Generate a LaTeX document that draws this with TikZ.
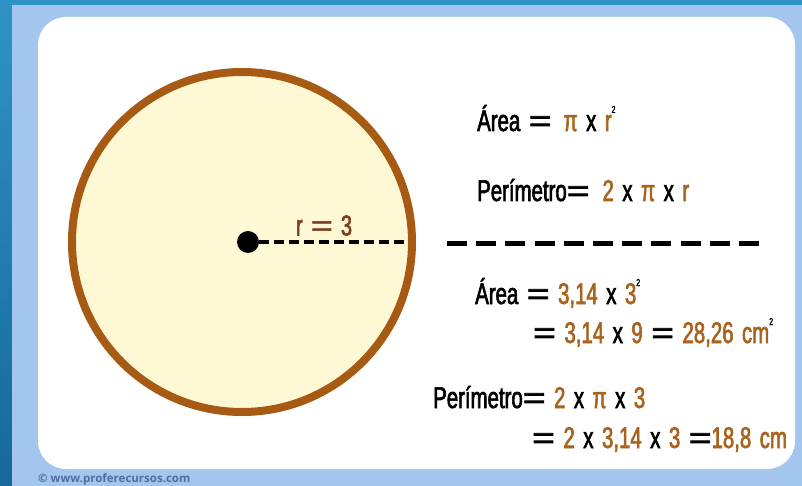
\documentclass[tikz,border=0pt]{standalone}
\usepackage{fontspec}
\usepackage{graphicx}
\setmainfont{Liberation Sans}[FakeStretch=0.68, FakeBold=2, WordSpace=1.5]
\newfontfamily\eqfont{Liberation Sans}[FakeBold=2]
\newfontfamily\markfont{Open Sans}
\usepackage{tikz}
\usetikzlibrary{positioning, shapes}

\definecolor{tealtop}{HTML}{2E93C4}
\definecolor{tealbot}{HTML}{17689A}
\definecolor{panelblue}{HTML}{A4C6EE}
\definecolor{discfill}{HTML}{FFF8D4}
\definecolor{discline}{HTML}{A65A14}
\definecolor{valbrown}{HTML}{A8641E}
\definecolor{rbrown}{HTML}{7A3E1E}
\definecolor{markblue}{HTML}{4D6E9E}

\newcommand{\val}[1]{\textcolor{valbrown}{#1}}
\newcommand{\eqs}{{\eqfont\scalebox{1.3}[1]{=}}}
\newcommand{\sq}{\raisebox{18pt}{\fontsize{10}{10}\selectfont 2}}

\begin{document}
\begin{tikzpicture}[
		x=1pt, y=-1pt,
		formula/.style={anchor=base west, inner sep=0pt, font=\fontsize{30}{30}\selectfont},
		disc/.style={draw=discline, fill=discfill, circle, line width=8pt, minimum size=340pt, inner sep=0pt},
		dot/.style={fill=black, circle, minimum size=22pt, inner sep=0pt},
		radius line/.style={black, line width=3.5pt, dash pattern=on 10pt off 5pt},
		sep line/.style={black, line width=5pt, dash pattern=on 20pt off 9.2pt}
		]
		\useasboundingbox (0,0) rectangle (802,486);
		
		% Background
		\fill[top color=tealtop, bottom color=tealbot] (0,0) rectangle (802,486);
		\fill[panelblue] (12,5) rectangle (802,486);
		\fill[white, rounded corners=28pt] (38,17) rectangle (795,469);
		
		% Circle
		\node[disc] (circ) at (242,242) {};
		\node[dot] (ctr) at (248,242) {};
		\coordinate (rim) at (408,242);
		\draw[radius line] (ctr) -- (rim);
		\node[above=6pt of rim, xshift=-84pt, inner sep=0pt, font=\fontsize{29}{29}\selectfont, text=rbrown] (rlab) {r \eqs\ 3};
		
		% Formulas
		\node[formula] (area) at (477,131) {Área \eqs\hspace{12pt}\val{π} x \val{r}\sq};
		\node[formula] (perim) at (477,201) {Perímetro\eqs\hspace{13pt}\val{2} x \val{π} x \val{r}};
		
		\coordinate (sepL) at (447,243);
		\coordinate (sepR) at (761,243);
		\draw[sep line] (sepL) -- (sepR);
		
		\node[formula] (areaA) at (475,304) {Área \eqs\ \val{3,14} x \val{3}\sq};
		\node[formula] (areaB) at (533,343) {\eqs\ \val{3,14} x \val{9} \eqs\ \val{28,26 cm}\sq};
		\node[formula] (perimA) at (433,408) {Perímetro\eqs\ \val{2} x \val{π} x \val{3}};
		\node[formula] (perimB) at (532,448) {\eqs\ \val{2} x \val{3,14} x \val{3} \eqs\val{18,8 cm}};
		
		% Credit
		\node[anchor=base west, inner sep=0pt, text=markblue, font=\markfont\bfseries\fontsize{11.5}{11.5}\selectfont] (credit) at (38,482) {© www.proferecursos.com};
		
	\end{tikzpicture}
\end{document}
